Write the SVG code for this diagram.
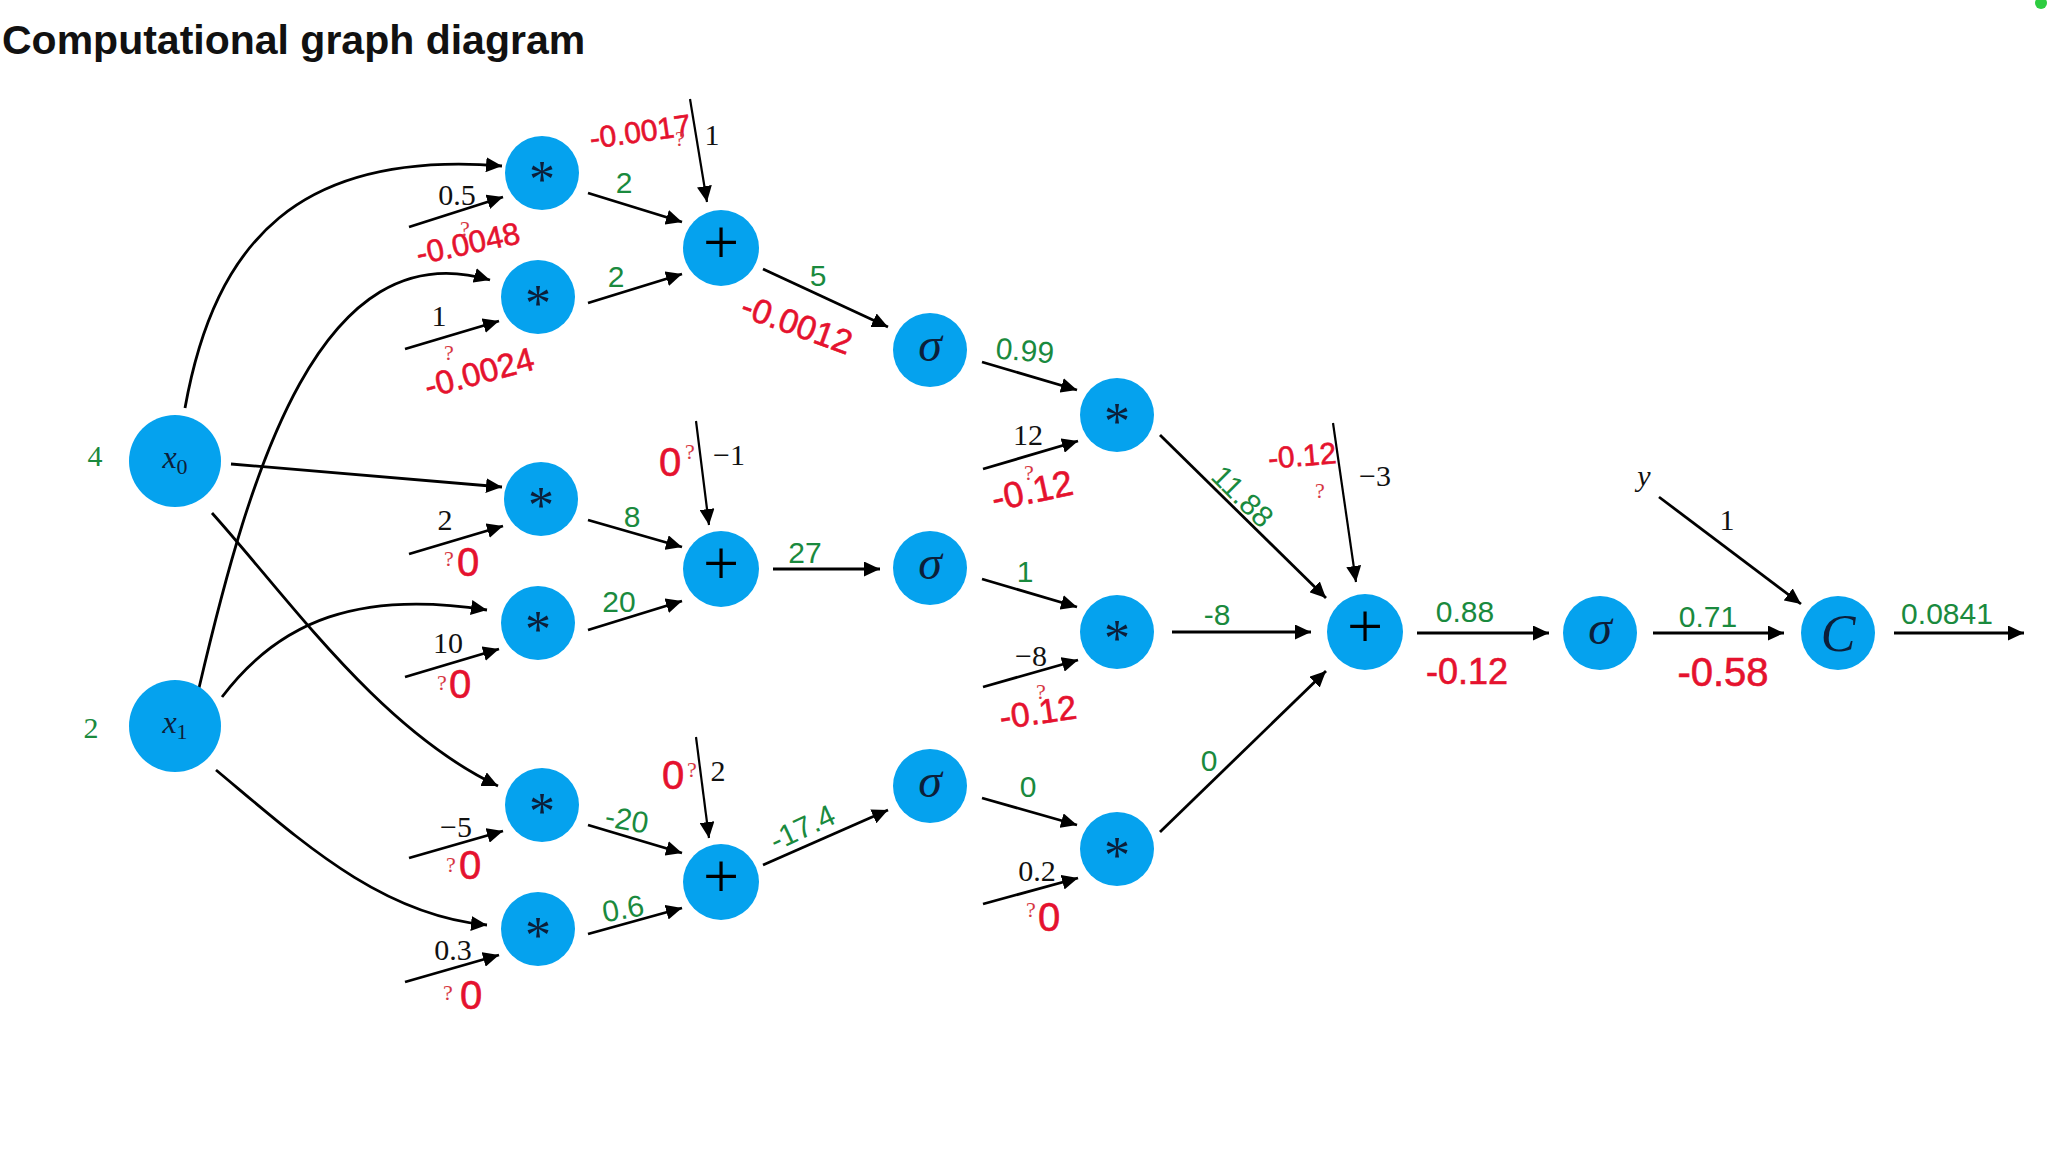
<svg xmlns="http://www.w3.org/2000/svg" width="2048" height="1160" viewBox="0 0 2048 1160">
  <style>
    .node { fill: #05a2ee; }
    .op { font-family: "Liberation Serif", "DejaVu Serif", serif; fill: #0c1f3a; text-anchor: middle; }
    .plus { fill: #000; }
    .edge { fill: none; stroke: #000; stroke-width: 2.8; marker-end: url(#arrow); }
    .bias { fill: none; stroke: #000; stroke-width: 2.2; marker-end: url(#arrow); }
    .w { font-family: "Liberation Serif", "Times New Roman", serif; font-size: 30px; fill: #111; text-anchor: middle; }
    .in { fill: #1a8a3e; }
    .g { font-family: "Liberation Sans", Arial, sans-serif; font-size: 30px; fill: #1a8a3e; text-anchor: middle; }
    .r { font-family: "Liberation Sans", Arial, sans-serif; fill: #e5122e; stroke: #e5122e; stroke-width: 0.6; text-anchor: middle; }
    .q { font-family: "Liberation Serif", "Times New Roman", serif; font-size: 22px; fill: #d63744; text-anchor: middle; }
  </style>
  <defs>
    <marker id="arrow" markerUnits="userSpaceOnUse" viewBox="0 0 16 15" markerWidth="16" markerHeight="15" refX="16" refY="7.5" orient="auto">
      <path d="M0,0 L16,7.5 L0,15 Z" fill="#000"/>
    </marker>
  </defs>

  <rect width="2048" height="1160" fill="#fff"/>
  <text x="2" y="54" font-family="Liberation Sans, Arial, sans-serif" font-weight="bold" font-size="41" fill="#111">Computational graph diagram</text>
  <circle id="corner-mark" cx="2041" cy="3" r="6" fill="#2ecc40"/>

  <!-- connectors -->
  <g id="edges">
    <path class="edge" d="M185,408 C215,240 300,150 502,166"/>
    <path class="edge" d="M231,464 L502,487"/>
    <path class="edge" d="M212,513 C290,600 380,730 498,786"/>
    <path class="edge" d="M199,688 C250,470 320,230 490,280"/>
    <path class="edge" d="M222,697 C280,620 360,590 487,610"/>
    <path class="edge" d="M216,770 C300,840 380,915 487,925"/>

    <path class="edge" d="M409,227 L503,197"/>
    <path class="edge" d="M405,349 L499,321"/>
    <path class="edge" d="M409,554 L503,526"/>
    <path class="edge" d="M405,677 L499,649"/>
    <path class="edge" d="M409,858 L503,831"/>
    <path class="edge" d="M405,982 L499,955"/>

    <path class="edge" d="M588,193 L682,222"/>
    <path class="edge" d="M588,303 L682,274"/>
    <path class="edge" d="M588,520 L682,547"/>
    <path class="edge" d="M588,630 L682,601"/>
    <path class="edge" d="M588,825 L682,853"/>
    <path class="edge" d="M588,934 L682,908"/>

    <path class="bias" d="M690,99 L707,202"/>
    <path class="bias" d="M696,421 L709,525"/>
    <path class="bias" d="M696,737 L709,838"/>

    <path class="edge" d="M763,269 L888,327"/>
    <path class="edge" d="M773,569 L880,569"/>
    <path class="edge" d="M763,865 L888,810"/>

    <path class="edge" d="M982,362 L1077,390"/>
    <path class="edge" d="M982,579 L1077,607"/>
    <path class="edge" d="M982,798 L1077,825"/>

    <path class="edge" d="M983,469 L1078,441"/>
    <path class="edge" d="M983,687 L1078,660"/>
    <path class="edge" d="M983,904 L1078,878"/>

    <path class="edge" d="M1160,435 L1326,598"/>
    <path class="edge" d="M1172,632 L1311,632"/>
    <path class="edge" d="M1160,832 L1326,671"/>
    <path class="bias" d="M1333,423 L1356,582"/>

    <path class="edge" d="M1417,633 L1549,633"/>
    <path class="edge" d="M1653,633 L1784,633"/>
    <path class="edge" d="M1659,497 L1801,604"/>
    <path class="edge" d="M1894,633 L2024,633"/>
  </g>

  <!-- nodes -->
  <g id="x0"><circle class="node" cx="175" cy="461" r="46"/><text class="op" x="175" y="468" font-size="32"><tspan font-style="italic">x</tspan><tspan font-size="22" dy="6">0</tspan></text></g>
  <g id="x1"><circle class="node" cx="175" cy="726" r="46"/><text class="op" x="175" y="733" font-size="32"><tspan font-style="italic">x</tspan><tspan font-size="22" dy="6">1</tspan></text></g>

  <g id="mul1"><circle class="node" cx="542" cy="173" r="37"/><text class="op" x="542" y="197" font-size="52">*</text></g>
  <g id="mul2"><circle class="node" cx="538" cy="297" r="37"/><text class="op" x="538" y="321" font-size="52">*</text></g>
  <g id="mul3"><circle class="node" cx="541" cy="499" r="37"/><text class="op" x="541" y="523" font-size="52">*</text></g>
  <g id="mul4"><circle class="node" cx="538" cy="623" r="37"/><text class="op" x="538" y="647" font-size="52">*</text></g>
  <g id="mul5"><circle class="node" cx="542" cy="805" r="37"/><text class="op" x="542" y="829" font-size="52">*</text></g>
  <g id="mul6"><circle class="node" cx="538" cy="929" r="37"/><text class="op" x="538" y="953" font-size="52">*</text></g>

  <g id="add1"><circle class="node" cx="721" cy="248" r="38"/><text class="op plus" x="721" y="264" font-size="64">+</text></g>
  <g id="add2"><circle class="node" cx="721" cy="569" r="38"/><text class="op plus" x="721" y="585" font-size="64">+</text></g>
  <g id="add3"><circle class="node" cx="721" cy="882" r="38"/><text class="op plus" x="721" y="898" font-size="64">+</text></g>

  <g id="sig1"><circle class="node" cx="930" cy="350" r="37"/><text class="op" x="930" y="361" font-size="48" font-style="italic">σ</text></g>
  <g id="sig2"><circle class="node" cx="930" cy="568" r="37"/><text class="op" x="930" y="579" font-size="48" font-style="italic">σ</text></g>
  <g id="sig3"><circle class="node" cx="930" cy="786" r="37"/><text class="op" x="930" y="797" font-size="48" font-style="italic">σ</text></g>

  <g id="mul7"><circle class="node" cx="1117" cy="415" r="37"/><text class="op" x="1117" y="439" font-size="52">*</text></g>
  <g id="mul8"><circle class="node" cx="1117" cy="632" r="37"/><text class="op" x="1117" y="656" font-size="52">*</text></g>
  <g id="mul9"><circle class="node" cx="1117" cy="849" r="37"/><text class="op" x="1117" y="873" font-size="52">*</text></g>

  <g id="add4"><circle class="node" cx="1365" cy="632" r="38"/><text class="op plus" x="1365" y="648" font-size="64">+</text></g>
  <g id="sig4"><circle class="node" cx="1600" cy="633" r="37"/><text class="op" x="1600" y="644" font-size="48" font-style="italic">σ</text></g>
  <g id="cost"><circle class="node" cx="1838" cy="633" r="37"/><text class="op" x="1838" y="651" font-size="52" font-style="italic">C</text></g>

  <!-- weights, biases and target -->
  <g id="weights">
    <text class="w" x="457" y="205">0.5</text>
    <text class="w" x="439" y="326">1</text>
    <text class="w" x="445" y="530">2</text>
    <text class="w" x="448" y="653">10</text>
    <text class="w" x="456" y="837">−5</text>
    <text class="w" x="453" y="960">0.3</text>
    <text class="w" x="712" y="145">1</text>
    <text class="w" x="729" y="465">−1</text>
    <text class="w" x="718" y="781">2</text>
    <text class="w" x="1028" y="445">12</text>
    <text class="w" x="1031" y="666">−8</text>
    <text class="w" x="1037" y="881">0.2</text>
    <text class="w" x="1375" y="486" font-size="32">−3</text>
    <text class="w" x="1644" y="486" font-size="32" font-style="italic">y</text>
    <text class="w" x="1727" y="530">1</text>
  </g>

  <!-- forward values -->
  <g id="forward">
    <text class="w in" x="95" y="466">4</text>
    <text class="w in" x="91" y="738">2</text>
    <text class="g" x="624" y="193">2</text>
    <text class="g" x="616" y="287">2</text>
    <text class="g" x="632" y="527">8</text>
    <text class="g" x="619" y="612">20</text>
    <text class="g" x="627" y="830" transform="rotate(10 627 819)">-20</text>
    <text class="g" x="623" y="919" transform="rotate(-10 623 908)">0.6</text>
    <text class="g" x="818" y="286" font-size="36">5</text>
    <text class="g" x="805" y="563">27</text>
    <text class="g" x="802" y="838" transform="rotate(-25 802 827)">-17.4</text>
    <text class="g" x="1025" y="361" transform="rotate(5 1025 350)">0.99</text>
    <text class="g" x="1025" y="582">1</text>
    <text class="g" x="1028" y="797">0</text>
    <text class="g" x="1243" y="507" transform="rotate(45 1243 496)">11.88</text>
    <text class="g" x="1217" y="625">-8</text>
    <text class="g" x="1209" y="771">0</text>
    <text class="g" x="1465" y="622">0.88</text>
    <text class="g" x="1708" y="627">0.71</text>
    <text class="g" x="1947" y="624">0.0841</text>
  </g>

  <!-- gradients -->
  <g id="gradients">
    <text class="r" x="640" y="142" font-size="30" transform="rotate(-8 640 131)">-0.0017</text>
    <text class="r" x="468" y="254" font-size="31" transform="rotate(-12 468 243)">-0.0048</text>
    <text class="r" x="479" y="384" font-size="33" transform="rotate(-15 479 372)">-0.0024</text>
    <text class="r" x="468" y="576" font-size="40">0</text>
    <text class="r" x="460" y="698" font-size="40">0</text>
    <text class="r" x="470" y="879" font-size="40">0</text>
    <text class="r" x="471" y="1009" font-size="40">0</text>
    <text class="r" x="670" y="476" font-size="40">0</text>
    <text class="r" x="673" y="789" font-size="40">0</text>
    <text class="r" x="797" y="336" font-size="34" transform="rotate(20 797 324)">-0.0012</text>
    <text class="r" x="1032" y="503" font-size="36" transform="rotate(-12 1032 490)">-0.12</text>
    <text class="r" x="1038" y="724" font-size="34" transform="rotate(-8 1038 712)">-0.12</text>
    <text class="r" x="1049" y="931" font-size="40">0</text>
    <text class="r" x="1302" y="466" font-size="30" transform="rotate(-5 1302 455)">-0.12</text>
    <text class="r" x="1467" y="684" font-size="36">-0.12</text>
    <text class="r" x="1723" y="686" font-size="40">-0.58</text>

    <text class="q" x="680" y="146">?</text>
    <text class="q" x="465" y="236">?</text>
    <text class="q" x="449" y="360">?</text>
    <text class="q" x="449" y="566">?</text>
    <text class="q" x="442" y="690">?</text>
    <text class="q" x="451" y="872">?</text>
    <text class="q" x="448" y="1000">?</text>
    <text class="q" x="690" y="459">?</text>
    <text class="q" x="692" y="777">?</text>
    <text class="q" x="1029" y="480">?</text>
    <text class="q" x="1041" y="699">?</text>
    <text class="q" x="1031" y="917">?</text>
    <text class="q" x="1320" y="498">?</text>
  </g>
</svg>
